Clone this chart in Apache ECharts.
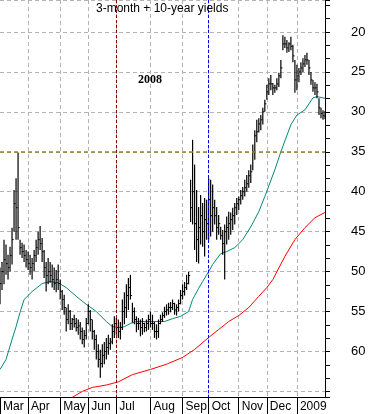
<!DOCTYPE html>
<html><head><meta charset="utf-8">
<script src="https://cdn.jsdelivr.net/npm/echarts@6/dist/echarts.min.js"></script>
<style>html,body{margin:0;padding:0;background:#fff}#c{width:371px;height:414px}</style>
</head><body><div id="c"></div>
<script>
const monthLabels = ['Mar','Apr','May','Jun','Jul','Aug','Sep','Oct','Nov','Dec','2009'];
const monthStart = [0,14,30,44,58,75,91,104,119,133,148];
const dayCount = 163;
const yTickLabels = [20,25,30,35,40,45,50,55,60];

const barMin = [49.5,48.8,46.0,46.6,47.9,46.9,44.5,39.8,38.3,35.1,46.0,46.4,46.6,47.3,47.5,
47.9,48.3,47.3,46.0,45.0,44.3,45.8,47.3,48.8,48.3,48.8,49.1,49.5,49.8,49.1,
51.0,52.3,52.9,54.5,54.1,54.8,55.8,55.4,55.8,56.0,56.3,57.0,57.3,55.8,54.1,
54.8,56.0,57.3,57.9,59.1,59.8,59.1,58.8,58.3,57.9,58.3,56.6,55.6,55.8,
56.0,56.3,53.5,52.6,51.6,50.8,50.4,53.9,54.5,55.6,55.8,56.0,55.8,56.4,56.0,55.4,
55.0,55.4,56.3,56.6,56.0,55.4,55.1,54.4,54.1,53.9,53.8,53.5,53.9,54.1,53.5,52.3,51.6,
51.3,50.4,50.0,38.5,33.5,36.6,39.8,41.9,40.4,41.4,40.8,41.0,
38.3,38.5,39.1,41.0,41.9,42.9,44.4,44.8,44.1,43.1,42.5,42.6,42.0,41.4,40.8,
40.6,39.8,39.4,38.5,37.9,37.3,36.6,34.1,32.3,31.0,30.8,30.4,29.5,28.5,
26.6,25.8,25.4,26.4,26.6,25.8,25.1,23.5,20.4,20.6,21.0,21.3,20.6,21.6,23.5,
24.1,24.5,23.8,23.3,22.9,22.6,23.5,25.0,26.0,26.3,26.5,28.3,29.5,29.8,29.9];

const barMax = [54.1,52.3,51.6,50.4,51.0,50.0,49.1,45.0,46.0,46.0,47.9,48.3,48.8,49.5,49.8,
50.4,51.0,50.0,48.8,47.9,47.3,48.8,50.8,52.5,51.6,51.4,52.0,52.3,52.6,52.3,
53.5,54.8,55.4,57.5,56.6,57.3,57.3,57.0,57.5,57.9,58.5,59.1,59.5,58.5,56.6,
57.5,58.5,59.8,61.0,62.0,63.3,62.0,61.6,61.0,60.4,59.8,59.1,58.3,57.9,
58.3,58.5,57.3,56.6,55.8,54.8,53.5,56.4,56.6,57.6,57.3,58.1,57.9,57.6,57.5,57.3,
57.0,57.3,58.3,58.5,58.3,56.6,56.3,55.8,55.5,55.4,55.1,54.8,55.4,55.5,55.0,54.1,53.5,
53.0,52.3,51.6,43.8,44.1,47.3,48.8,49.0,46.6,46.9,48.1,46.0,
46.0,45.6,45.0,44.1,46.0,45.4,46.0,47.9,51.0,46.6,46.0,45.4,44.8,44.1,42.9,
42.3,41.6,41.0,40.6,40.0,39.5,38.9,37.3,36.0,33.8,32.6,32.3,31.6,30.0,
28.5,27.9,27.3,27.9,27.6,27.3,26.9,25.8,22.3,22.0,22.6,22.5,22.3,23.8,27.6,
27.3,26.3,25.4,25.0,24.4,24.1,25.4,26.6,27.5,27.9,28.3,30.4,30.8,31.0,30.9];

const barClose = [51.5,50.0,48.5,49.0,49.5,48.0,46.0,41.5,42.0,44.5,47.0,47.5,48.0,48.5,49.0,
49.5,49.0,48.0,47.0,46.0,46.5,47.5,49.5,50.5,50.0,50.5,51.0,51.5,51.0,51.5,
52.5,53.5,54.5,56.0,55.0,56.5,56.0,56.5,57.0,56.8,57.5,58.5,58.0,56.5,55.0,
56.0,57.5,58.5,60.0,61.0,61.5,60.5,60.0,59.5,59.0,58.8,57.5,56.5,57.0,
57.5,57.0,55.0,54.5,53.0,52.0,53.0,55.0,56.0,56.5,56.5,57.0,56.5,57.0,56.5,56.0,
56.5,56.5,57.5,57.5,56.5,56.0,55.5,55.0,54.8,54.5,54.5,54.0,54.8,54.5,54.0,53.0,52.5,
52.0,51.5,50.5,42.0,40.0,44.0,46.0,44.5,43.0,45.0,43.5,44.0,
41.0,43.0,42.0,43.0,44.5,44.0,45.5,46.5,45.0,44.5,44.0,43.5,43.0,42.0,41.5,
41.0,40.5,40.0,39.5,39.0,38.0,37.5,35.0,33.0,32.5,31.5,31.0,30.0,29.0,
27.5,26.5,26.5,27.0,27.0,26.5,25.5,24.5,21.5,21.5,22.0,21.5,21.8,23.0,26.0,
25.5,25.0,24.5,24.0,23.5,23.5,24.5,26.0,27.0,27.0,27.5,29.5,30.2,30.5,30.5];

const tealMA = [[0,62.25],[3,61.0],[6,58.5],[8,56.9],[10,55.1],[12,53.5],[16,52.5],[21,51.5],[25,51.25],
[29,51.4],[33,52.0],[38,53.1],[43,54.1],[48,55.0],[53,56.25],[56,56.9],[60,57.0],[62,56.9],[65,56.5],
[68,56.25],[75,56.25],[82,56.25],[86,55.9],[90,55.6],[94,55.0],[96,53.5],[99,52.1],[101,51.25],[104,50.0],
[106,49.1],[110,47.75],[113,47.5],[117,47.0],[121,46.0],[125,44.4],[129,42.5],[132,40.6],[137,37.25],
[140,35.0],[145,31.6],[148,30.4],[152,29.75],[156,28.25],[158,28.1],[162,28.3]];

const redMA = [[35,65.9],[41,65.0],[46,64.5],[53,64.2],[59,63.8],[66,62.9],[75,62.25],[83,61.6],[91,60.75],
[97,59.75],[104,58.25],[109,57.25],[114,56.25],[119,55.5],[124,54.5],[129,53.1],[133,52.0],[136,51.0],
[142,48.1],[147,46.0],[152,44.5],[157,43.25],[162,42.6]];

const refLevel = 35;
const julyLine = 58;
const octLine = 104;

const categories = [];
for (let i = 0; i < dayCount; i++) categories.push('d' + i);
const labelAt = {};
monthStart.forEach((s, k) => { labelAt[s] = monthLabels[k]; });
const isStart = (idx) => labelAt[idx] !== undefined;
const ohlc = barMin.map((v, i) => [i, v, barMax[i], barClose[i]]);

const chart = echarts.init(document.getElementById('c'), null, {renderer: 'canvas'});
chart.setOption({
  animation: false,
  backgroundColor: '#fff',
  title: [
    {text: '3-month + 10-year yields', left: 96, top: 3, padding: 0,
     textStyle: {fontSize: 12, fontWeight: 'normal', fontFamily: 'Liberation Sans', color: '#000'}},
    {text: '2008', left: 138, top: 74, padding: 0,
     textStyle: {fontSize: 12, fontWeight: 'bold', fontFamily: 'Liberation Serif', color: '#000'}}
  ],
  grid: {left: 0, right: 46, top: 0, bottom: 17, containLabel: false, outerBoundsMode: 'none'},
  xAxis: {
    type: 'category', data: categories, boundaryGap: false,
    axisLine: {onZero: false, lineStyle: {color: '#000', width: 1}},
    axisTick: {show: true, length: 17, interval: (i) => isStart(i), lineStyle: {color: '#000'}},
    axisLabel: {interval: (i) => isStart(i), formatter: (v, i) => labelAt[i] || '', align: 'left',
      padding: [0, 0, 0, 3], margin: 4, fontSize: 12, fontFamily: 'Liberation Sans', color: '#000'},
    splitLine: {show: true, interval: (i) => isStart(i) && i > 0, lineStyle: {color: '#b4b4b4', type: [4, 3], width: 1}}
  },
  yAxis: {
    type: 'value', position: 'right', inverse: true, min: 16, max: 65.7,
    minInterval: 5, maxInterval: 5, splitNumber: 10,
    axisLine: {show: true, lineStyle: {color: '#000', width: 1}},
    axisTick: {show: true, length: 5, lineStyle: {color: '#000'}},
    minorTick: {show: true, splitNumber: 3, length: 5, lineStyle: {color: '#000'}},
    axisLabel: {showMinLabel: false, showMaxLabel: false, margin: 26, fontSize: 13,
      fontFamily: 'Liberation Sans', color: '#000',
      formatter: (v) => yTickLabels.indexOf(Math.round(v * 100) / 100) >= 0 ? String(v) : ''},
    splitLine: {show: true, lineStyle: {color: '#b4b4b4', type: [4, 3], width: 1}}
  },
  series: [
    {
      type: 'line', data: redMA, symbol: 'none', clip: true,
      lineStyle: {color: '#ff0000', width: 1}, z: 3
    },
    {
      type: 'line', data: tealMA, symbol: 'none', clip: true,
      lineStyle: {color: '#00897a', width: 1}, z: 3,
      markLine: {
        silent: true, symbol: 'none', label: {show: false}, animation: false,
        data: [
          {yAxis: refLevel, lineStyle: {color: '#8a8a2e', type: [4, 3], width: 1.5}},
          {xAxis: julyLine, lineStyle: {color: '#8b0000', type: [3, 2], width: 1}},
          {xAxis: octLine, lineStyle: {color: '#0000ff', type: [3, 2], width: 1}}
        ]
      }
    },
    {
      type: 'custom', data: ohlc, clip: true, z: 4,
      encode: {x: 0, y: [1, 2, 3]},
      renderItem: function (params, api) {
        const x = api.value(0);
        const a = api.coord([x, api.value(1)]);
        const b = api.coord([x, api.value(2)]);
        const c = api.coord([x, api.value(3)]);
        return {type: 'group', children: [
          {type: 'line', shape: {x1: a[0], y1: a[1], x2: b[0], y2: b[1]}, style: {stroke: '#000', lineWidth: 1.2}},
          {type: 'line', shape: {x1: c[0], y1: c[1], x2: c[0] + 1.6, y2: c[1]}, style: {stroke: '#000', lineWidth: 1}}
        ]};
      }
    }
  ]
});
</script></body></html>
